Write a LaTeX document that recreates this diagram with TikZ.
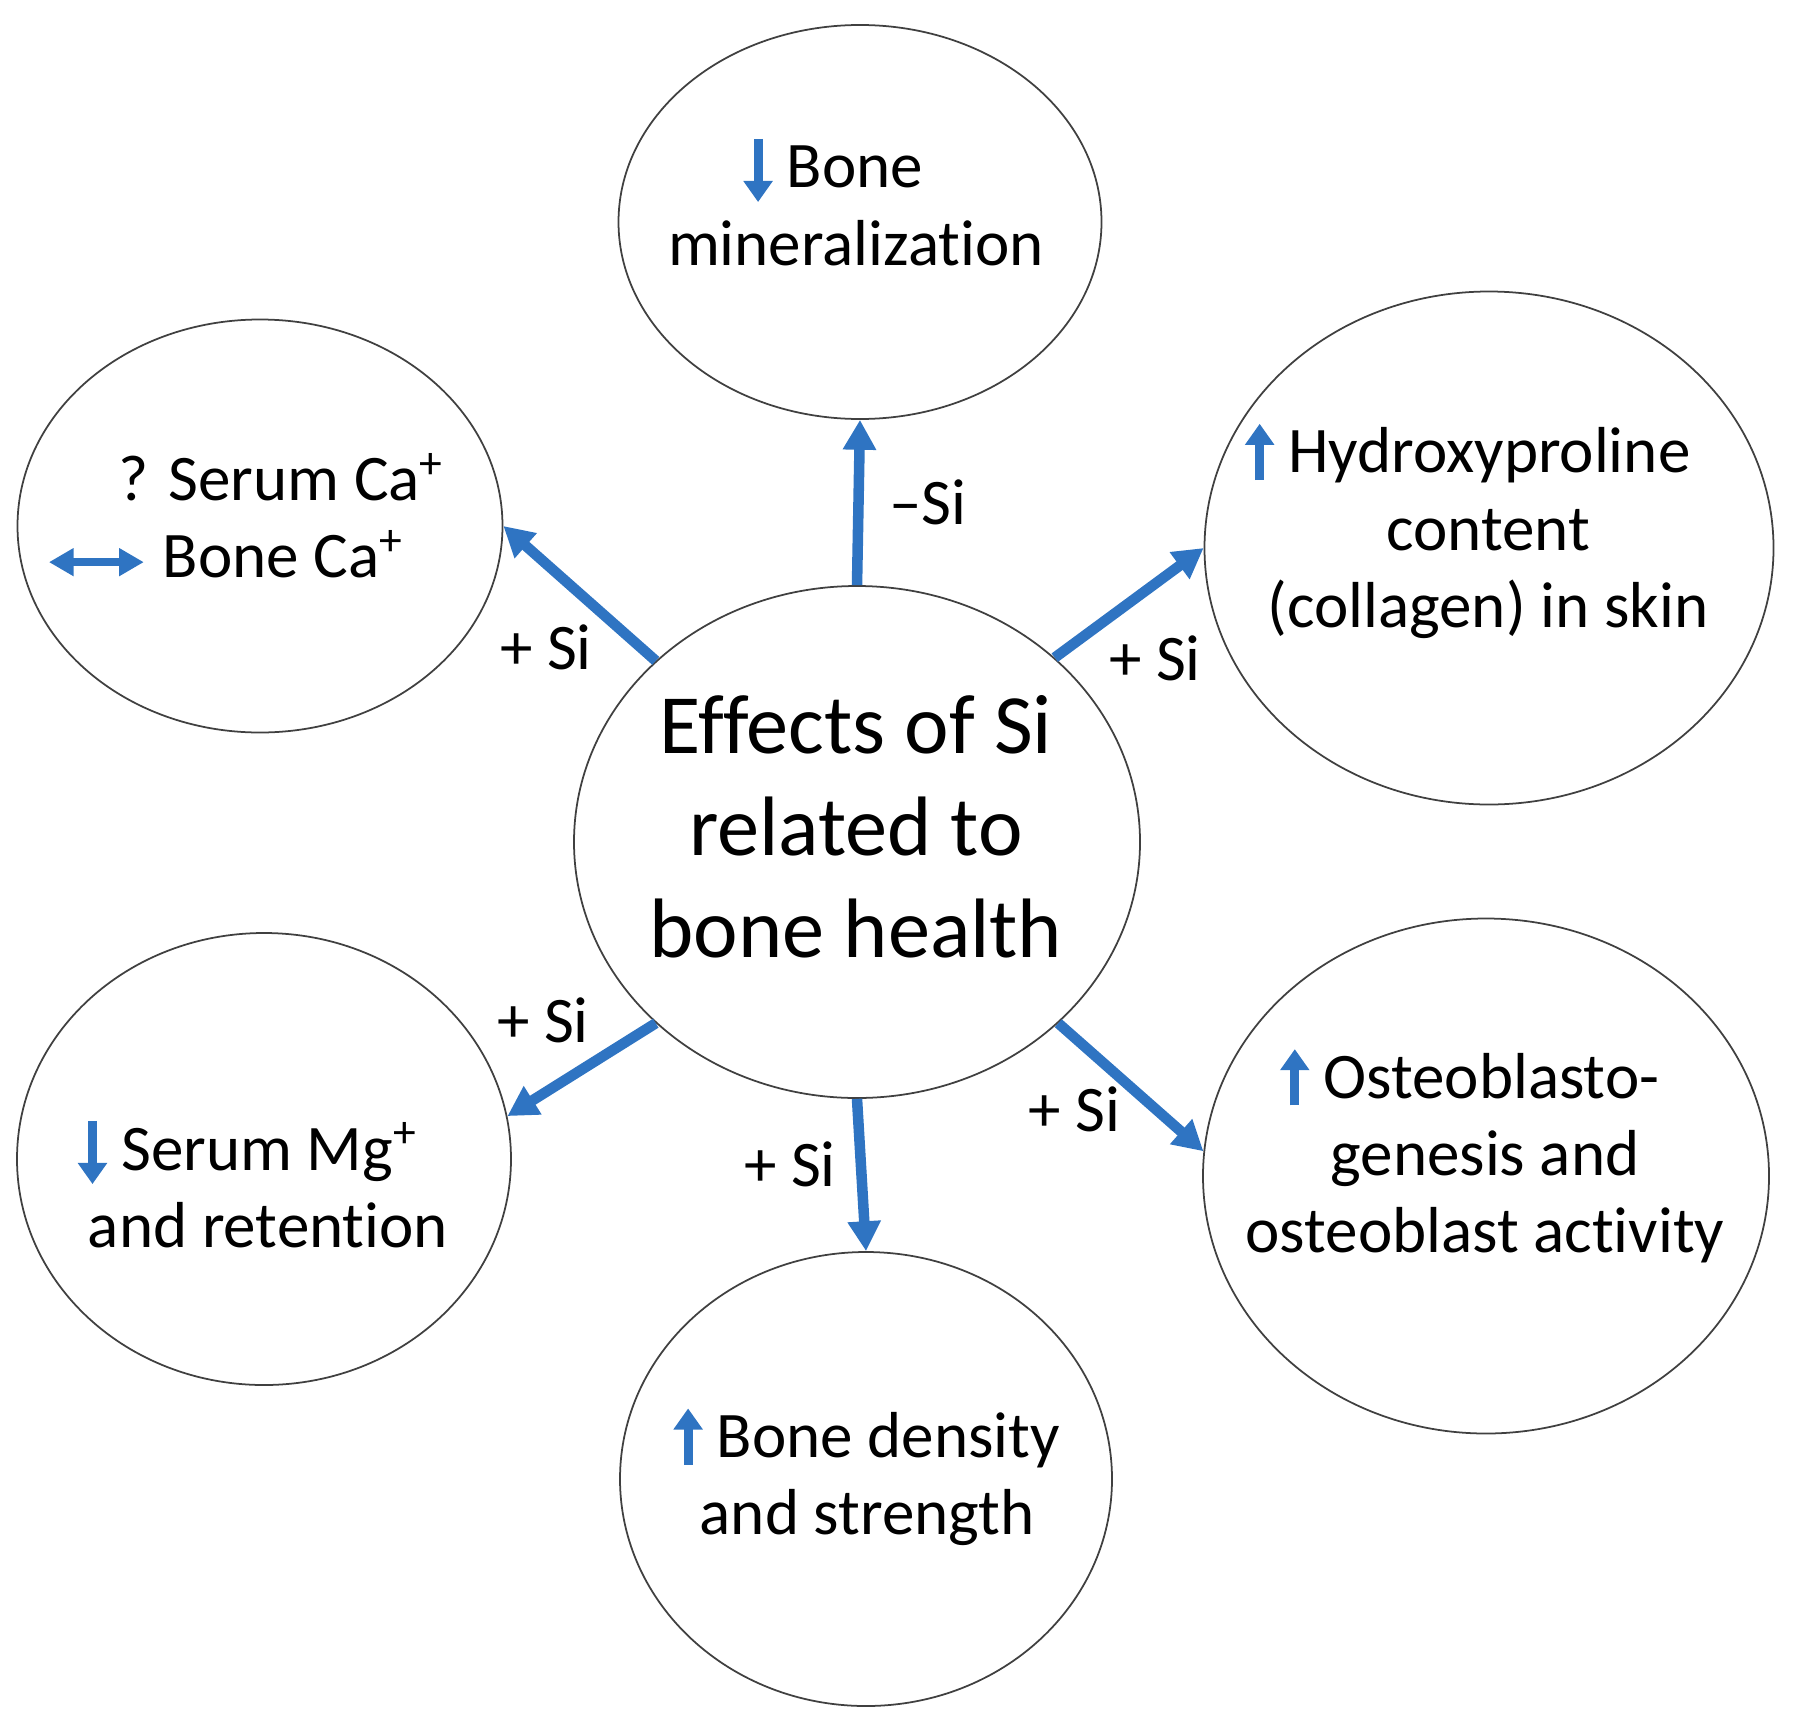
\documentclass[tikz,border=0pt]{standalone}
\usepackage{fontspec}
\setmainfont{Carlito}[Ligatures={NoCommon}]
\usepackage{xcolor}
\usepackage{tikz}
\usetikzlibrary{arrows.meta, shapes.geometric}
\definecolor{siBlue}{HTML}{2F74C2}

\newcommand{\upmark}{\tikz[baseline=0pt]\draw[siBlue, line width=2.6pt, -{Triangle[width=8pt,length=6pt]}] (0,-2pt) -- (0,14pt);}
\newcommand{\downmark}{\tikz[baseline=0pt]\draw[siBlue, line width=2.6pt, -{Triangle[width=8pt,length=6pt]}] (0,14pt) -- (0,-4pt);}
\newcommand{\bothmark}{\tikz[baseline=0pt]\draw[siBlue, line width=2.4pt, {Triangle[width=7.5pt,length=7pt]}-{Triangle[width=7.5pt,length=7pt]}] (0,4.5pt) -- (27pt,4.5pt);}

\begin{document}
\begin{tikzpicture}[
    bubble/.style={ellipse, draw=black!75, line width=0.5pt, inner sep=0pt},
    txt/.style={font=\fontsize{18.5}{22}\selectfont, align=center, inner sep=0pt},
    link/.style={siBlue, line width=3pt, -{Triangle[width=9pt,length=8.5pt]}}
]
    \useasboundingbox (0,0) rectangle (18.02,-17.32);
    \node[bubble, minimum width=5.66cm, minimum height=5.12cm] (hub) at (8.57,-8.42) {};
    \node[bubble, minimum width=4.83cm, minimum height=3.94cm] (minz) at (8.60,-2.22) {};
    \node[bubble, minimum width=4.85cm, minimum height=4.13cm] (calc) at (2.60,-5.26) {};
    \node[bubble, minimum width=5.69cm, minimum height=5.13cm] (hyp) at (14.89,-5.48) {};
    \node[bubble, minimum width=4.94cm, minimum height=4.52cm] (magn) at (2.64,-11.59) {};
    \node[bubble, minimum width=4.92cm, minimum height=4.54cm] (dens) at (8.66,-14.79) {};
    \node[bubble, minimum width=5.66cm, minimum height=5.15cm] (osteo) at (14.86,-11.76) {};

    \node[txt, font=\fontsize{24}{29}\selectfont] (hubT) at (8.56,-8.27) {Effects of Si\\related to\\bone health};
    \node[txt] (minzT) at (8.56,-2.00) {\downmark\ Bone\hspace*{0.45cm}\\mineralization};
    \node[txt, align=left, anchor=west] (calcT) at (0.44,-5.16) {\hspace*{0.74cm}? Serum Ca\textsuperscript{+}\\\bothmark\ Bone Ca\textsuperscript{+}};
    \node[txt] (hypT) at (14.88,-5.29) {\upmark\ Hydroxyproline\hspace*{0.4cm}\\content\\(collagen) in skin};
    \node[txt] (magnT) at (2.68,-11.82) {\downmark\ Serum Mg\textsuperscript{+}\hspace*{0.4cm}\\and retention};
    \node[txt] (densT) at (8.67,-14.75) {\upmark\ Bone density\\and strength};
    \node[txt] (osteoT) at (14.85,-11.54) {\upmark\ Osteoblasto-\hspace*{0.3cm}\\genesis and\\osteoblast activity};

    \draw[link] (hub.north) -- (minz.south);
    \draw[link] (hub.138) -- (calc.east);
    \draw[link] (hub.43) -- (hyp.west);
    \draw[link] (hub.222) -- (magn.10);
    \draw[link] (hub.south) -- (dens.north);
    \draw[link] (hub.318) -- (osteo.175);

    \node[txt] (siUp) at (9.28,-5.02) {–Si};
    \foreach \n/\x/\y in {Ca/5.46/-6.47, Hyp/11.55/-6.58, Mg/5.43/-10.20, Dn/7.90/-11.64, Ost/10.74/-11.09}
        \node[txt] (si\n) at (\x,\y) {+ Si};
\end{tikzpicture}
\end{document}
